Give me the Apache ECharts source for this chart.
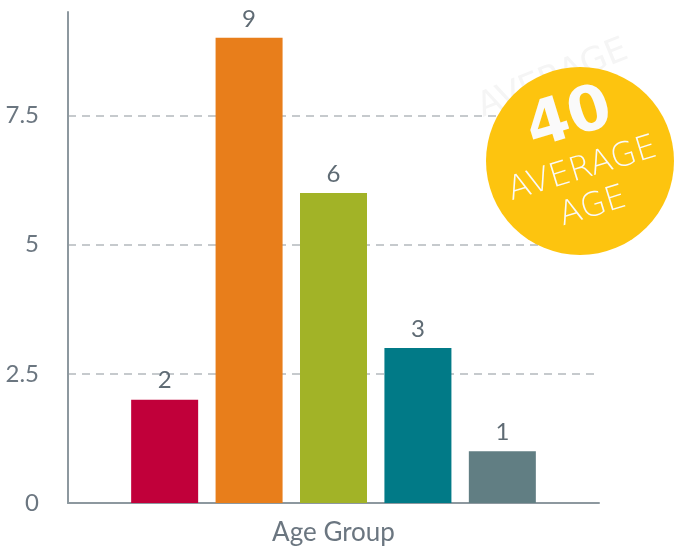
<!DOCTYPE html>
<html>
<head>
<meta charset="utf-8">
<script src="https://cdn.jsdelivr.net/npm/echarts@6/dist/echarts.min.js"></script>
<style>
html,body{margin:0;padding:0;background:#fff;}
#c{width:677px;height:552px;}
</style>
</head>
<body>
<div id="c"></div>
<script>
var categories = ['Age Group'];
var seriesNames = ['Group 1', 'Group 2', 'Group 3', 'Group 4', 'Group 5'];
var seriesValues = [2, 9, 6, 3, 1];
var seriesColors = ['#c1003a', '#e87e1b', '#a2b327', '#017a87', '#617e83'];
var yTicks = [0, 2.5, 5, 7.5];
var badgeNumber = '40';
var badgeLines = ['AVERAGE', 'AGE'];

var chart = echarts.init(document.getElementById('c'), null, {renderer: 'canvas'});
var textColor = '#6b7680';
var series = seriesValues.map(function (v, i) {
  return {
    name: seriesNames[i],
    type: 'bar',
    data: [v],
    barWidth: 67,
    barGap: '26%',
    itemStyle: {color: seriesColors[i]},
    label: {show: true, position: 'top', distance: 7, color: '#5f6b74', fontSize: 24, fontFamily: 'Lato'}
  };
});
var rot = 17 * Math.PI / 180;
var option = {
  animation: false,
  backgroundColor: '#ffffff',
  grid: {left: 68, right: 78, top: 12, bottom: 49, containLabel: false},
  xAxis: {
    type: 'category',
    data: categories,
    axisLine: {lineStyle: {color: '#8d989f', width: 2}},
    axisTick: {show: false},
    axisLabel: {color: textColor, fontSize: 26, fontFamily: 'Lato', margin: 17}
  },
  yAxis: {
    type: 'value',
    min: 0,
    max: 9.5,
    interval: 2.5,
    axisLine: {show: true, lineStyle: {color: '#8d989f', width: 2}},
    axisTick: {show: false},
    axisLabel: {color: textColor, fontSize: 24, fontFamily: 'Lato', margin: 29, showMaxLabel: false,
      formatter: function (v) { return yTicks.indexOf(v) >= 0 ? String(v) : ''; }},
    splitLine: {show: true, showMinLine: false, showMaxLine: false, lineStyle: {color: '#c6cacd', width: 2, type: [8, 6]}}
  },
  series: series,
  graphic: [
    {
      type: 'text', x: 553, y: 79, rotation: 22 * Math.PI / 180, z: 1,
      style: {text: badgeLines[0], fill: '#f5f5f5', font: '34px "DejaVu Sans"', textAlign: 'center', textVerticalAlign: 'middle'}
    },
    {
      type: 'circle', shape: {cx: 580, cy: 161, r: 94}, z: 10,
      style: {fill: '#fdc40f'}
    },
    {
      type: 'group', x: 580, y: 161, rotation: rot, z: 11,
      children: [
        {type: 'text', x: 2, y: -42, z: 11, style: {text: badgeNumber, fill: '#fafafa', font: 'bold 62px "DejaVu Sans"', textAlign: 'center', textVerticalAlign: 'middle'}},
        {type: 'text', x: 0, y: 9, z: 11, style: {text: badgeLines[0], fill: '#fafafa', font: '200 33px "DejaVu Sans"', textAlign: 'center', textVerticalAlign: 'middle'}},
        {type: 'text', x: -1, y: 48, z: 11, style: {text: badgeLines[1], fill: '#fafafa', font: '200 33px "DejaVu Sans"', textAlign: 'center', textVerticalAlign: 'middle'}}
      ]
    }
  ]
};
chart.setOption(option);
</script>
</body>
</html>
